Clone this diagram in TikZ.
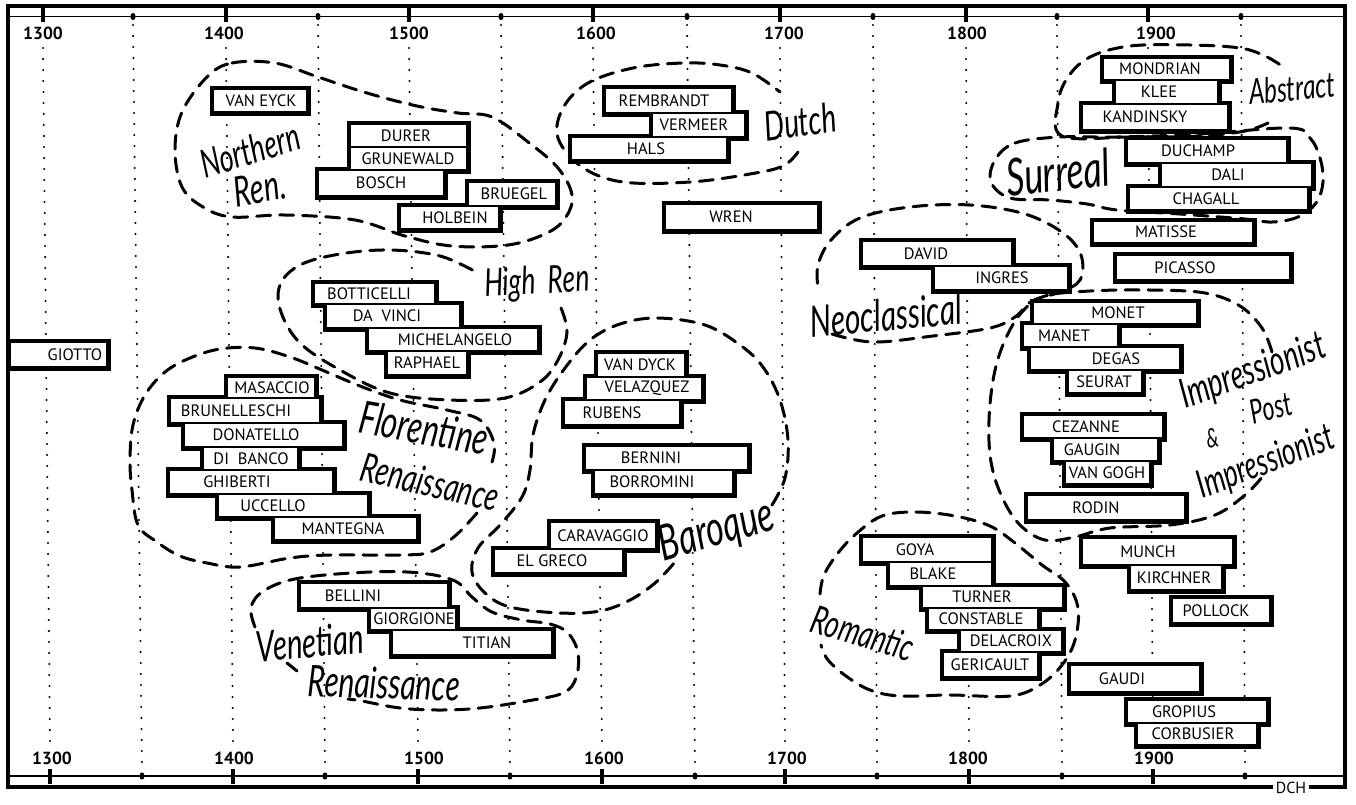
\documentclass[tikz,border=0pt]{standalone}
\usepackage{fontspec}
\usepackage{graphicx}
\newfontfamily\boxf{PT Sans}
\newfontfamily\handf{Lato}
\pgfdeclarelayer{background}
\pgfdeclarelayer{thickl}
\pgfdeclarelayer{fillw}
\pgfsetlayers{background,thickl,fillw,main}
\tikzset{
 boxn/.style={draw, line width=1.2pt, inner sep=0pt, outer sep=0pt},
 boxt/.style={inner sep=0pt, font=\boxf\fontsize{16.5}{17}\selectfont},
 yeart/.style={inner sep=0pt, font=\boxf\bfseries\fontsize{17.5}{18}\selectfont},
 blob/.style={line width=3pt, dash pattern=on 14pt off 9pt, line cap=round},
 gridln/.style={line width=2.3pt, line cap=round, dash pattern=on 0pt off 11pt},
 frameln/.style={line width=3.5pt},
 thinln/.style={line width=1.5pt},
 tickln/.style={line width=4pt},
}
\newcommand\bx[7]{%
 \begin{pgfonlayer}{thickl}\draw[line width=7pt] (#2,#3) rectangle (#4,#5);\end{pgfonlayer}%
 \begin{pgfonlayer}{fillw}\fill[white] (#2,#3) rectangle (#4,#5);\end{pgfonlayer}%
 \node[boxn, minimum width={(#4)-(#2)}, minimum height={(#5)-(#3)}] (#1) at ({((#2)+(#4))/2},{((#3)+(#5))/2}) {};%
 \node[boxt] (#1t) at (#6,{((#3)+(#5))/2}) {#7};%
}
\newcommand\hl[6]{%
 \node[inner sep=0pt, rotate=#4, yscale=1.45] (#1) at (#2,#3) {\resizebox{#5pt}{!}{\handf\itshape #6}};%
}
\begin{document}
\begin{tikzpicture}[x=1pt,y=-1pt]
\useasboundingbox (0,0) rectangle (1356,804);

\begin{pgfonlayer}{background}
\fill[white] (0,0) rectangle (1356,804);
% grid
\foreach \t/\b in {43/50,226/233,409/418,593/602,780/785,966/969,1148/1153}
  \draw[gridln] (\t,48) -- (\b,742);
\foreach \t/\b in {133/142,318/325,501/510,687/695,873/877,1057/1062,1241/1245}
  \draw[gridln] (\t,25) -- (\b,768);

% Northern
\draw[blob] plot[smooth cycle, tension=0.6] coordinates {(207,77) (232,63) (275,63) (318,77) (367,93) (417,106) (458,113) (492,117) (528,142) (558,168) (572,195) (566,217) (547,233) (508,245) (452,246) (405,236) (355,220) (285,215) (232,217) (203,207) (182,187) (175,150) (182,112)};
% Dutch
\draw[blob] plot[smooth, tension=0.6] coordinates {(798,152) (783,166) (750,174) (690,182) (623,182) (582,167) (558,138) (563,108) (588,83) (633,68) (683,63) (720,65) (752,73) (780,92)};
% Abstract
\draw[blob] plot[smooth, tension=0.6] coordinates {(1268,123) (1245,131) (1200,136) (1130,137) (1062,136) (1058,103) (1068,77) (1090,57) (1130,46) (1190,45) (1240,48) (1265,56) (1282,66)};
% Surreal
\draw[blob] plot[smooth cycle, tension=0.6] coordinates {(995,160) (1015,143) (1060,137) (1117,137) (1200,134) (1290,128) (1310,138) (1320,158) (1323,182) (1316,203) (1298,217) (1272,222) (1245,219) (1180,214) (1117,210) (1087,204) (1050,200) (1010,198) (991,182)};
% High Ren
\draw[blob] plot[smooth, tension=0.6] coordinates {(561,308) (567,332) (558,360) (540,382) (505,398) (450,400) (390,393) (340,370) (300,343) (281,312) (280,285) (300,265) (340,254) (390,250) (440,256) (476,272)};
% Florentine
\draw[blob] plot[smooth, tension=0.6] coordinates {(477,513) (455,536) (430,552) (400,555) (330,555) (290,558) (240,567) (207,563) (180,556) (157,542) (138,525) (132,490) (130,460) (133,425) (145,395) (165,372) (190,358) (220,349) (255,348) (290,357) (322,370) (360,386) (400,400) (447,410) (480,420) (494,443) (492,462)};
% Baroque
\draw[blob] plot[smooth, tension=0.6] coordinates {(772,505) (785,478) (788,440) (780,400) (763,367) (740,345) (705,325) (657,318) (620,324) (590,340) (565,368) (545,400) (533,435) (530,470) (522,497) (500,525) (478,548) (472,572) (485,593) (510,607) (560,613) (600,611) (630,600) (655,583) (675,562)};
% Venetian
\draw[blob] plot[smooth, tension=0.6] coordinates {(255,627) (251,607) (265,590) (300,578) (370,572) (420,573) (455,581) (472,597) (492,612) (522,620) (550,624) (568,633) (578,653) (576,678) (563,693) (527,701) (480,708) (440,710) (400,708) (362,701) (348,699)};
\draw[blob] (287,663) -- (297,671);
% Neoclassical
\draw[blob] plot[smooth, tension=0.6] coordinates {(832,334) (873,342) (933,336) (990,328) (1015,317) (1032,301) (1060,292) (1080,280) (1081,255) (1063,233) (1025,214) (970,205) (910,207) (860,218) (831,240) (818,265) (818,288)};
% Impressionist
\draw[blob] plot[smooth, tension=0.6] coordinates {(1272,352) (1262,328) (1240,306) (1205,293) (1150,290) (1090,291) (1045,296) (1022,312) (1005,340) (994,375) (989,420) (991,462) (1002,497) (1020,525) (1045,540) (1075,537) (1110,528) (1170,525) (1215,515) (1245,495) (1263,476)};
% Romantic
\draw[blob] plot[smooth, tension=0.6] coordinates {(820,594) (824,575) (838,553) (857,533) (882,516) (915,512) (955,516) (990,526) (1015,543) (1042,565) (1066,583) (1078,608) (1075,640) (1062,665) (1040,685) (1010,696) (950,695) (900,696) (870,690) (846,676) (828,660) (821,645)};
\end{pgfonlayer}

% frame
\draw[frameln] (6,6) -- (1347,6);
\draw[frameln] (8,4) -- (8,789);
\draw[frameln] (1345,4) -- (1345,789);
\draw[frameln] (6,787) -- (1273,787);
\draw[frameln] (1309,787) -- (1347,787);
\draw[thinln] (8,16.5) -- (1345,16.5);
\draw[thinln] (8,776) -- (1345,776);
\foreach \t in {43,226,409,593,780,966,1148} \draw[tickln] (\t,8) -- (\t,22);
\foreach \t in {133,318,501,687,873,1057,1241} \fill (\t,16.5) ellipse (2.6 and 3.6);
\foreach \b in {50,233,418,602,785,969,1153} \draw[tickln] (\b,769) -- (\b,784);
\foreach \b in {142,325,510,695,877,1062,1245} \fill (\b,776) ellipse (2.6 and 3.6);
\node[boxt, font=\boxf\fontsize{16}{17}\selectfont] (dch) at (1291,788) {DCH};

% years
\node[yeart] (y13t) at (43,33) {1300};
\node[yeart] (y14t) at (224,33) {1400};
\node[yeart] (y15t) at (409,33) {1500};
\node[yeart] (y16t) at (596,33) {1600};
\node[yeart] (y17t) at (784,33) {1700};
\node[yeart] (y18t) at (967,33) {1800};
\node[yeart] (y19t) at (1156,33) {1900};
\node[yeart] (y13b) at (52,758) {1300};
\node[yeart] (y14b) at (234,758) {1400};
\node[yeart] (y15b) at (424,758) {1500};
\node[yeart] (y16b) at (604,758) {1600};
\node[yeart] (y17b) at (787,758) {1700};
\node[yeart] (y18b) at (968,758) {1800};
\node[yeart] (y19b) at (1154,758) {1900};

% boxes
\bx{vaneyck}{213}{89}{307}{112}{261}{VAN EYCK}
\bx{durer}{350}{124}{467}{147}{406}{DURER}
\bx{grunewald}{350}{147}{467}{170}{408}{GRUNEWALD}
\bx{bosch}{318}{170}{444}{196}{381}{BOSCH}
\bx{bruegel}{468}{182}{556}{206}{514}{BRUEGEL}
\bx{holbein}{400}{206}{499}{229}{455}{HOLBEIN}
\bx{rembrandt}{605}{88}{732}{113}{664}{REMBRANDT}
\bx{vermeer}{652}{113}{745}{137}{694}{VERMEER}
\bx{hals}{571}{137}{727}{160}{646}{HALS}
\bx{wren}{665}{204}{818}{230}{731}{WREN}
\bx{mondrian}{1103}{58}{1230}{80}{1160}{MONDRIAN}
\bx{klee}{1115}{80}{1218}{104}{1159}{KLEE}
\bx{kandinsky}{1082}{104}{1228}{130}{1145}{KANDINSKY}
\bx{duchamp}{1127}{139}{1287}{163}{1198}{DUCHAMP}
\bx{dali}{1161}{163}{1312}{187}{1228}{DALI}
\bx{chagall}{1129}{187}{1308}{210}{1206}{CHAGALL}
\bx{matisse}{1093}{221}{1253}{243}{1166}{MATISSE}
\bx{picasso}{1116}{255}{1290}{280}{1185}{PICASSO}
\bx{david}{862}{241}{1012}{266}{926}{DAVID}
\bx{ingres}{934}{266}{1068}{290}{1002}{INGRES}
\bx{botticelli}{314}{283}{435}{304}{369}{BOTTICELLI}
\bx{davinci}{326}{304}{460}{328}{387}{DA\ \ VINCI}
\bx{michelangelo}{368}{328}{538}{351}{455}{MICHELANGELO}
\bx{raphael}{387}{351}{467}{375}{427}{RAPHAEL}
\bx{giotto}{10}{342}{107}{367}{75}{GIOTTO}
\bx{masaccio}{227}{377}{315}{398}{272}{MASACCIO}
\bx{brunelleschi}{170}{398}{320}{423}{236}{BRUNELLESCHI}
\bx{donatello}{184}{423}{343}{447}{256}{DONATELLO}
\bx{dibanco}{203}{447}{298}{470}{251}{DI\ \ BANCO}
\bx{ghiberti}{169}{470}{333}{494}{237}{GHIBERTI}
\bx{uccello}{218}{494}{368}{517}{273}{UCCELLO}
\bx{mantegna}{274}{517}{417}{540}{343}{MANTEGNA}
\bx{vandyck}{597}{353}{685}{377}{640}{VAN DYCK}
\bx{velazquez}{586}{377}{702}{400}{647}{VELAZQUEZ}
\bx{rubens}{564}{400}{680}{425}{612}{RUBENS}
\bx{bernini}{585}{446}{748}{470}{651}{BERNINI}
\bx{borromini}{594}{470}{733}{494}{652}{BORROMINI}
\bx{caravaggio}{550}{522}{656}{549}{603}{CARAVAGGIO}
\bx{elgreco}{494}{549}{623}{573}{552}{EL GRECO}
\bx{bellini}{300}{583}{448}{608}{353}{BELLINI}
\bx{giorgione}{370}{608}{456}{630}{414}{GIORGIONE}
\bx{titian}{392}{630}{552}{655}{487}{TITIAN}
\bx{goya}{862}{537}{992}{562}{915}{GOYA}
\bx{blake}{889}{562}{992}{586}{933}{BLAKE}
\bx{turner}{922}{586}{1063}{608}{982}{TURNER}
\bx{constable}{928}{608}{1038}{630}{981}{CONSTABLE}
\bx{delacroix}{960}{630}{1062}{652}{1011}{DELACROIX}
\bx{gericault}{943}{652}{1038}{677}{990}{GERICAULT}
\bx{munch}{1082}{538}{1233}{565}{1148}{MUNCH}
\bx{kirchner}{1130}{565}{1222}{590}{1174}{KIRCHNER}
\bx{pollock}{1172}{598}{1270}{623}{1216}{POLLOCK}
\bx{gaudi}{1070}{665}{1200}{692}{1122}{GAUDI}
\bx{gropius}{1127}{700}{1267}{723}{1184}{GROPIUS}
\bx{corbusier}{1137}{723}{1257}{745}{1193}{CORBUSIER}
\bx{monet}{1033}{302}{1197}{324}{1118}{MONET}
\bx{manet}{1023}{324}{1118}{347}{1064}{MANET}
\bx{degas}{1030}{347}{1180}{370}{1116}{DEGAS}
\bx{seurat}{1068}{370}{1142}{393}{1104}{SEURAT}
\bx{cezanne}{1023}{415}{1163}{438}{1086}{CEZANNE}
\bx{gaugin}{1053}{438}{1158}{461}{1092}{GAUGIN}
\bx{vangogh}{1065}{461}{1150}{484}{1107}{VAN GOGH}
\bx{rodin}{1027}{495}{1185}{520}{1096}{RODIN}

% group labels
\hl{lnorthern}{250}{150}{17}{102}{Northern}
\hl{lrenn}{260}{188}{10}{52}{Ren.}
\hl{ldutch}{800}{122}{8}{72}{Dutch}
\hl{labstract}{1292}{88}{5}{86}{Abstract}
\hl{lsurreal}{1058}{172}{6}{104}{Surreal}
\hl{lhigh}{537}{283}{3}{105}{High\ \ Ren}
\hl{lneo}{886}{315}{5}{152}{Neoclassical}
\hl{lflor}{424}{428}{-10}{130}{Florentine}
\hl{lrenf}{430}{482}{-13}{140}{Renaissance}
\hl{lbaroque}{717}{532}{16}{118}{Baroque}
\hl{lvenetian}{310}{642}{5}{108}{Venetian}
\hl{lrenv}{384}{683}{-2}{152}{Renaissance}
\hl{lromantic}{863}{633}{-17}{105}{Romantic}
\hl{limpa}{1253}{372}{20}{152}{Impressionist}
\hl{land}{1212}{438}{10}{12}{\&}
\hl{lpost}{1271}{408}{15}{42}{Post}
\hl{limpb}{1266}{463}{21}{144}{Impressionist}
\end{tikzpicture}
\end{document}
